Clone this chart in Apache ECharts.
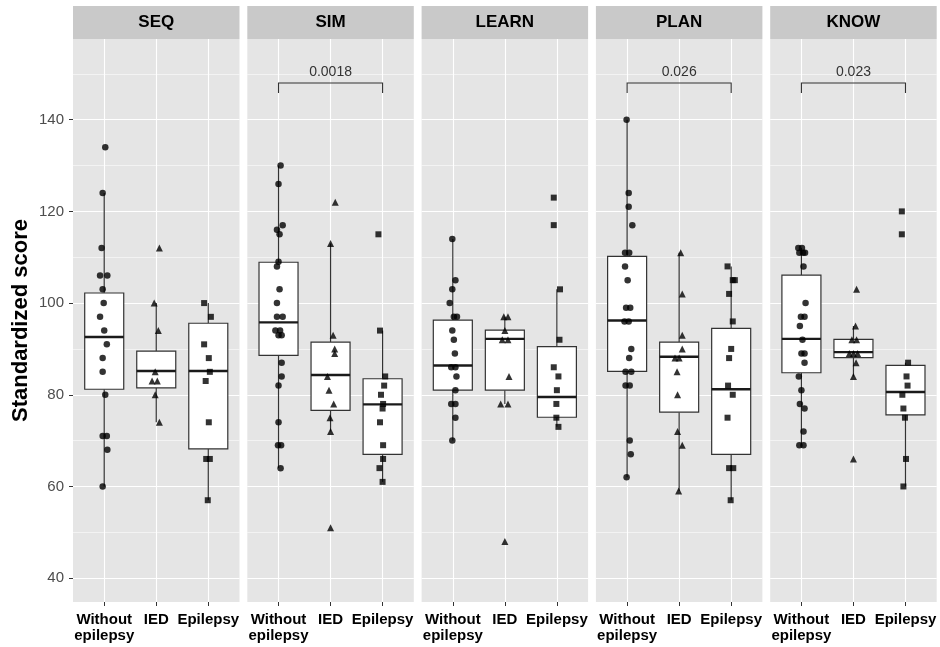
<!DOCTYPE html>
<html>
<head>
<meta charset="utf-8">
<script src="https://cdn.jsdelivr.net/npm/echarts@6/dist/echarts.min.js"></script>
<style>html,body{margin:0;padding:0;background:#fff;}#c{width:940px;height:647px;}</style>
</head>
<body>
<div id="c"></div>
<script>
// ---- data ----
const panelNames = ['SEQ', 'SIM', 'LEARN', 'PLAN', 'KNOW'];
const groupNames = ['Without\nepilepsy', 'IED', 'Epilepsy'];
const yTickValues = [40, 60, 80, 100, 120, 140];
const yMinorValues = [50, 70, 90, 110, 130, 150];

// box stats: [lower whisker, Q1, median, Q3, upper whisker] for Without epilepsy, IED, Epilepsy
const seqBox   = [[60, 81.2, 92.6, 102.2, 124], [74, 81.5, 85.2, 89.5, 100], [57, 68.2, 85.2, 95.6, 100]];
const simBox   = [[64, 88.6, 95.8, 108.9, 130], [72, 76.6, 84.3, 91.5, 113], [61, 67.0, 77.9, 83.5, 94]];
const learnBox = [[70, 81.0, 86.4, 96.3, 114], [78, 81.0, 92.2, 94.1, 97], [73, 75.1, 79.5, 90.5, 103]];
const planBox  = [[62, 85.1, 96.2, 110.2, 140], [59, 76.2, 88.3, 91.5, 111], [57, 67.0, 81.2, 94.5, 108]];
const knowBox  = [[69, 84.8, 92.2, 106.1, 112], [84, 88.1, 89.3, 92.1, 95], [60, 75.6, 80.6, 86.4, 87]];

// points: [horizontal jitter (category units), score]
const seqWithout = [[0.02,134],[-0.03,124],[-0.05,112],[-0.08,106],[0.06,106],[-0.03,103],[-0.01,100],[-0.08,97],[0,94],[0.05,91],[-0.03,88],[-0.03,85],[0.02,80],[-0.03,71],[0.05,71],[0.06,68],[-0.03,60]];
const seqIED     = [[0.06,112],[-0.04,100],[0.04,94],[-0.02,85],[-0.08,83],[0.02,83],[-0.02,80],[0.06,74]];
const seqEpi     = [[-0.08,100],[0.05,97],[-0.08,91],[0.01,88],[0.03,85],[-0.05,83],[0.01,74],[-0.04,66],[0.03,66],[-0.01,57]];

const simWithout = [[0.04,130],[0,126],[0.08,117],[-0.03,116],[0.02,115],[0,109],[-0.03,108],[0.02,103],[-0.03,100],[-0.03,97],[0.08,97],[-0.06,94],[0.03,94],[0.06,93],[0,93],[0.06,87],[0.06,84],[0,82],[0,74],[-0.01,69],[0.05,69],[0.04,64]];
const simIED     = [[0.09,122],[0,113],[0.05,93],[0.08,90],[0.08,89],[-0.06,84],[-0.03,81],[0.06,78],[-0.01,75],[0,72],[0,51]];
const simEpi     = [[-0.08,115],[-0.05,94],[0.05,84],[0.03,82],[-0.03,80],[0.01,78],[0,77],[-0.05,74],[0.01,69],[0.01,66],[-0.06,64],[0,61]];

const learnWithout = [[-0.01,114],[0.05,105],[-0.01,103],[-0.06,100],[0.02,97],[0.08,97],[-0.01,94],[0.02,92],[0.04,89],[-0.03,86],[0.05,86],[0.07,84],[0.05,81],[-0.03,78],[0.05,78],[0.05,75],[-0.01,70]];
const learnIED     = [[-0.02,97],[0.06,97],[0,94],[-0.05,92],[0.06,92],[0.08,84],[-0.08,78],[0.06,78],[0,48]];
const learnEpi     = [[-0.06,123],[-0.06,117],[0.06,103],[0.05,92],[-0.06,86],[0.03,84],[0,81],[-0.01,78],[-0.01,75],[0.03,73]];

const planWithout = [[-0.01,140],[0.03,124],[0.03,121],[0.1,117],[-0.04,111],[0.04,111],[-0.04,108],[0.01,105],[-0.02,99],[0.06,99],[-0.05,96],[0.03,96],[0.08,90],[0.04,88],[-0.03,85],[0.08,85],[-0.03,82],[0.05,82],[0.05,70],[0.07,67],[-0.01,62]];
const planIED     = [[0.03,111],[0.06,102],[0.06,93],[0.06,90],[-0.08,88],[0,88],[-0.04,85],[-0.03,80],[-0.03,72],[0.06,69],[-0.01,59]];
const planEpi     = [[-0.07,108],[0.03,105],[0.07,105],[-0.04,102],[0.03,96],[0,90],[-0.04,88],[-0.06,82],[0.03,80],[-0.07,75],[-0.04,64],[0.04,64],[-0.01,57]];

const knowWithout = [[-0.06,112],[0.01,112],[-0.04,111],[0.03,111],[0.07,111],[0.04,108],[0.08,100],[-0.01,97],[0.06,97],[-0.03,95],[0.02,92],[0,89],[0.06,89],[0.06,87],[-0.05,84],[0,81],[-0.03,78],[0.06,77],[0.04,72],[-0.04,69],[0.04,69]];
const knowIED     = [[0.06,103],[0.04,95],[-0.03,92],[0.06,92],[-0.08,89],[0,89],[0.08,89],[0.05,87],[0,84],[0,66]];
const knowEpi     = [[-0.07,120],[-0.07,115],[0.05,87],[0.02,84],[0.04,82],[-0.06,80],[-0.04,77],[-0.01,75],[0.01,66],[-0.04,60]];

// significance brackets (Without epilepsy vs Epilepsy)
const pValues = ['', '0.0018', '', '0.026', '0.023'];
const bracketTip = 145.8, bracketLine = 148, bracketText = 150.3;

// ---- assembly ----
const boxes = [seqBox, simBox, learnBox, planBox, knowBox];
const points = [
  [seqWithout, seqIED, seqEpi],
  [simWithout, simIED, simEpi],
  [learnWithout, learnIED, learnEpi],
  [planWithout, planIED, planEpi],
  [knowWithout, knowIED, knowEpi]
];
const FONT = 'Liberation Sans, Arial, sans-serif';
const symbols = ['circle', 'triangle', 'rect'];
const symbolSizes = [6.5, 7, 6];
const Y_MIN = 34.8, Y_MAX = 157.6;
const PANEL_TOP = 39, PANEL_H = 563, PANEL_W = 166.5, PANEL_LEFT0 = 73, PANEL_STEP = 174.3;

const grids = [], xAxes = [], yAxes = [], series = [], graphics = [];

panelNames.forEach(function (name, i) {
  const left = PANEL_LEFT0 + i * PANEL_STEP;
  grids.push({ left: left, top: PANEL_TOP, width: PANEL_W, height: PANEL_H, show: true,
    backgroundColor: '#E5E5E5', borderWidth: 0 });
  xAxes.push({
    type: 'value', gridIndex: i, min: 0.4, max: 3.6,
    axisLine: { show: false },
    axisTick: { show: true, customValues: [1, 2, 3], length: 4, lineStyle: { color: '#333', width: 1 } },
    axisLabel: {
      customValues: [1, 2, 3], margin: 10,
      formatter: function (v) {
        const lines = groupNames[Math.round(v) - 1].split('\n');
        return lines.map(function (l) { return '{a|' + l + '}'; }).join('\n');
      },
      rich: {
        a: { fontFamily: FONT, fontWeight: 'bold', fontSize: 15, color: '#000', lineHeight: 16 }
      }
    },
    splitLine: { show: true, lineStyle: { color: '#FFFFFF', width: 1.1 } }
  });
  // major y axis
  yAxes.push({
    type: 'value', gridIndex: i, min: Y_MIN, max: Y_MAX,
    axisLine: { show: false },
    axisTick: { show: i === 0, customValues: yTickValues, length: 4, lineStyle: { color: '#333', width: 1 } },
    axisLabel: { show: i === 0, customValues: yTickValues, margin: 9, color: '#4D4D4D', fontSize: 15, fontFamily: FONT },
    splitLine: { show: true, lineStyle: { color: '#FFFFFF', width: 1.1 } },
    name: i === 0 ? 'Standardized score' : '',
    nameLocation: 'middle', nameGap: 41,
    nameTextStyle: { fontFamily: FONT, fontWeight: 'bold', fontSize: 22, color: '#000' }
  });
  // minor grid lines
  yAxes.push({
    type: 'value', gridIndex: i, min: Y_MIN, max: Y_MAX,
    axisLine: { show: false },
    axisTick: { show: false, customValues: yMinorValues },
    axisLabel: { show: false, customValues: yMinorValues },
    splitLine: { show: true, lineStyle: { color: '#FFFFFF', width: 0.55 } }
  });

  // strip
  graphics.push({ type: 'rect', x: left, y: 6, shape: { x: 0, y: 0, width: PANEL_W, height: 33 },
    style: { fill: '#C9C9C9' }, silent: true });
  graphics.push({ type: 'text', x: left + PANEL_W / 2, y: 22.5,
    style: { text: name, fill: '#000', font: 'bold 17px ' + FONT, align: 'center', verticalAlign: 'middle' }, silent: true });

  // boxes
  series.push({
    type: 'custom', xAxisIndex: i, yAxisIndex: 2 * i, z: 2, silent: true,
    data: boxes[i].map(function (b, k) { return [k + 1].concat(b); }),
    encode: { x: 0, y: [1, 2, 3, 4, 5] },
    renderItem: function (params, api) {
      const x = api.value(0), lo = api.value(1), q1 = api.value(2), med = api.value(3), q3 = api.value(4), hi = api.value(5);
      const hw = 0.375;
      const tl = api.coord([x - hw, q3]), br = api.coord([x + hw, q1]);
      const pHi = api.coord([x, hi]), pQ3 = api.coord([x, q3]), pQ1 = api.coord([x, q1]), pLo = api.coord([x, lo]);
      const mL = api.coord([x - hw, med]), mR = api.coord([x + hw, med]);
      const ls = { stroke: '#333333', lineWidth: 1.2 };
      return { type: 'group', children: [
        { type: 'line', shape: { x1: pHi[0], y1: pHi[1], x2: pQ3[0], y2: pQ3[1] }, style: ls },
        { type: 'line', shape: { x1: pQ1[0], y1: pQ1[1], x2: pLo[0], y2: pLo[1] }, style: ls },
        { type: 'rect', shape: { x: tl[0], y: tl[1], width: br[0] - tl[0], height: br[1] - tl[1] },
          style: { fill: '#FFFFFF', stroke: '#333333', lineWidth: 1.2 } },
        { type: 'line', shape: { x1: mL[0], y1: mL[1], x2: mR[0], y2: mR[1] }, style: { stroke: '#1A1A1A', lineWidth: 2.4 } }
      ] };
    }
  });

  // jittered points
  points[i].forEach(function (pts, k) {
    series.push({
      type: 'scatter', xAxisIndex: i, yAxisIndex: 2 * i, z: 3, silent: true,
      symbol: symbols[k], symbolSize: symbolSizes[k],
      itemStyle: { color: '#000000' },
      data: pts.map(function (p) { return [k + 1 + p[0], p[1]]; })
    });
  });

  // bracket
  if (pValues[i]) {
    const label = pValues[i];
    series.push({
      type: 'custom', xAxisIndex: i, yAxisIndex: 2 * i, z: 4, silent: true,
      data: [[1, 3, bracketTip, bracketLine, bracketText]],
      encode: { x: [0, 1], y: [2, 3, 4] },
      renderItem: function (params, api) {
        const x1 = api.value(0), x2 = api.value(1), yt = api.value(2), yl = api.value(3), ytx = api.value(4);
        const a = api.coord([x1, yt]), b = api.coord([x1, yl]), c = api.coord([x2, yl]), d = api.coord([x2, yt]);
        const t = api.coord([(x1 + x2) / 2, ytx]);
        return { type: 'group', children: [
          { type: 'polyline', shape: { points: [a, b, c, d] }, style: { stroke: '#333333', lineWidth: 1.1, fill: null } },
          { type: 'text', x: t[0], y: t[1], style: { text: label, fill: '#333333', font: '14px ' + FONT, align: 'center', verticalAlign: 'middle' } }
        ] };
      }
    });
  }
});

const chart = echarts.init(document.getElementById('c'), null, { renderer: 'canvas' });
chart.setOption({
  animation: false,
  backgroundColor: '#FFFFFF',
  grid: grids,
  xAxis: xAxes,
  yAxis: yAxes,
  series: series,
  graphic: graphics
});
</script>
</body>
</html>
